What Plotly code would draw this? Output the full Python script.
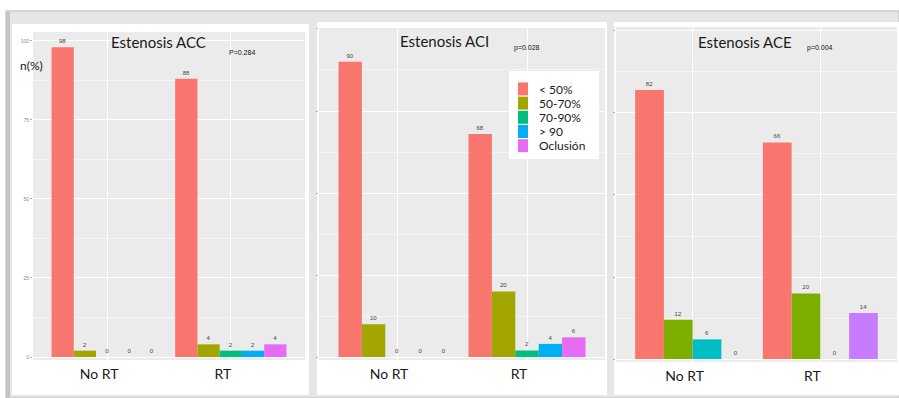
import plotly.graph_objects as go

W, H = 899, 398

# Data (percentages per stenosis grade)
groups = ["No RT", "RT"]
cats5 = ["< 50%", "50-70%", "70-90%", "> 90", "Oclusión"]
colors5 = ["#F8766D", "#A3A500", "#00BF7D", "#00B0F6", "#E76BF3"]
cats4 = ["< 50%", "50-70%", "70-90%", "Oclusión"]
colors4 = ["#F8766D", "#7CAE00", "#00BFC4", "#C77CFF"]

acc_no_rt = [98, 2, 0, 0, 0]
acc_rt = [88, 4, 2, 2, 4]
aci_no_rt = [90, 10, 0, 0, 0]
aci_rt = [68, 20, 2, 4, 6]
ace_no_rt = [82, 12, 6, 0]
ace_rt = [66, 20, 0, 14]

titles = ["Estenosis ACC", "Estenosis ACI", "Estenosis ACE"]
pvalues = ["P=0.284", "p=0.028", "p=0.004"]
yticks = [0, 25, 50, 75, 100]


def px(x):
    return x / W


def py(y):
    return 1 - y / H


fig = go.Figure()

panels = [
    ("x", "y", cats5, colors5, acc_no_rt, acc_rt),
    ("x2", "y2", cats5, colors5, aci_no_rt, aci_rt),
    ("x3", "y3", cats4, colors4, ace_no_rt, ace_rt),
]
for xa, ya, cats, cols, no_rt, rt in panels:
    for i, (c, col) in enumerate(zip(cats, cols)):
        vals = [no_rt[i], rt[i]]
        fig.add_trace(go.Bar(
            x=groups, y=vals, name=c, xaxis=xa, yaxis=ya,
            marker=dict(color=col, line=dict(width=0)),
            text=[str(v) for v in vals], textposition="outside",
            textfont=dict(size=6, color="#444444", family="Liberation Sans"),
            cliponaxis=False, showlegend=False,
        ))

# Plot areas in pixels: (left, right, top, bottom, ymin, ymax)
areas = [
    (33, 305, 32, 360, -0.95, 102.8),
    (319, 605, 28, 360, -0.9, 100.3),
    (616, 897, 27, 362, -0.9, 101.2),
]

axis_common = dict(showline=False, zeroline=False)
for k, (l, r, t, b, y0, y1) in enumerate(areas):
    sfx = "" if k == 0 else str(k + 1)
    fig.layout["xaxis" + sfx] = dict(
        domain=[px(l), px(r)], anchor="y" + sfx, type="category",
        range=[-0.6, 1.6], showgrid=True, gridcolor="white", gridwidth=1,
        ticks="", ticklabelstandoff=4, ticklabelshift=-8,
        tickfont=dict(family="Lato", size=14, color="#1A1A1A"),
        fixedrange=True, **axis_common,
    )
    fig.layout["yaxis" + sfx] = dict(
        domain=[py(b), py(t)], anchor="x" + sfx, range=[y0, y1],
        tickvals=yticks, showgrid=True, gridcolor="white", gridwidth=1,
        minor=dict(tickvals=[12.5, 37.5, 62.5, 87.5], showgrid=True,
                   gridcolor="#F4F4F4", gridwidth=0.6),
        ticks="outside", ticklen=2, tickcolor="#B0B0B0",
        showticklabels=(k == 0),
        tickfont=dict(family="Liberation Sans", size=5, color="#8A8A8A"),
        fixedrange=True, **axis_common,
    )

shapes = []
# outer frame
shapes.append(dict(type="rect", xref="paper", yref="paper",
                   x0=px(6), x1=px(899), y0=py(398), y1=py(11),
                   fillcolor="#E6E6E6", line=dict(color="#CDCDCD", width=1.5),
                   layer="below"))
shapes.append(dict(type="rect", xref="paper", yref="paper",
                   x0=px(6), x1=px(10), y0=py(398), y1=py(12),
                   fillcolor="#C4C4C4", line=dict(width=0), layer="below"))
# white panel cards
for x0, x1, y0, y1 in [(12, 309, 24, 395), (317, 607, 22, 395), (614, 899, 22, 395)]:
    shapes.append(dict(type="rect", xref="paper", yref="paper",
                       x0=px(x0), x1=px(x1), y0=py(y1), y1=py(y0),
                       fillcolor="white", line=dict(width=0), layer="below"))
# grey plotting backgrounds
for l, r, t, b, _, _ in areas:
    shapes.append(dict(type="rect", xref="paper", yref="paper",
                       x0=px(l), x1=px(r), y0=py(b), y1=py(t),
                       fillcolor="#EBEBEB", line=dict(width=0), layer="below"))

annotations = []
title_pos = [(158, 42), (444, 41), (745, 42)]
p_pos = [(242, 52), (527, 48), (820, 48)]
for ttl, (tx, ty), pv, (qx, qy) in zip(titles, title_pos, pvalues, p_pos):
    annotations.append(dict(text=ttl, x=px(tx), y=py(ty), xref="paper", yref="paper",
                            showarrow=False, xanchor="center", yanchor="middle",
                            font=dict(family="Lato", size=15, color="#1A1A1A")))
    annotations.append(dict(text=pv, x=px(qx), y=py(qy), xref="paper", yref="paper",
                            showarrow=False, xanchor="center", yanchor="middle",
                            font=dict(family="Liberation Sans", size=7, color="#111111")))
annotations.append(dict(text="n(%)", x=px(31), y=py(65), xref="paper", yref="paper",
                        showarrow=False, xanchor="center", yanchor="middle",
                        font=dict(family="Lato", size=12, color="#111111")))

# legend box inside the middle panel
lx0, lx1, ly0, ly1 = 509, 599, 71, 159
shapes.append(dict(type="rect", xref="paper", yref="paper",
                   x0=px(lx0), x1=px(lx1), y0=py(ly1), y1=py(ly0),
                   fillcolor="white", line=dict(width=0)))
key_top = 82
key_h = 14.2
for i, (c, col) in enumerate(zip(cats5, colors5)):
    ky = key_top + i * key_h
    shapes.append(dict(type="rect", xref="paper", yref="paper",
                       x0=px(518), x1=px(528), y0=py(ky + key_h - 0.8), y1=py(ky + 0.4),
                       fillcolor=col, line=dict(width=0)))
    annotations.append(dict(text=c, x=px(537), y=py(ky + key_h / 2), xref="paper",
                            yref="paper", showarrow=False, xanchor="left",
                            yanchor="middle",
                            font=dict(family="Lato", size=12, color="#1A1A1A")))

fig.update_layout(
    width=W, height=H, margin=dict(l=0, r=0, t=0, b=0),
    paper_bgcolor="white", plot_bgcolor="rgba(0,0,0,0)",
    barmode="group", bargap=0.1, bargroupgap=0,
    shapes=shapes, annotations=annotations, showlegend=False,
)

fig.write_html("out.html")
